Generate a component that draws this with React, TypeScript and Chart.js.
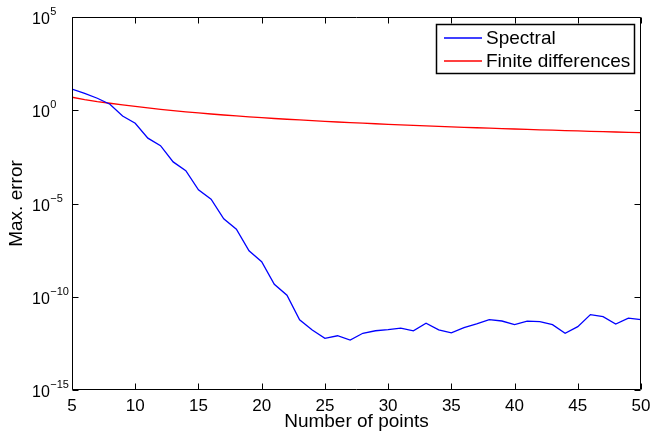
import React, { useEffect, useRef } from "react";
import { Chart, registerables } from "chart.js";

Chart.register(...registerables);

const points = [
  5, 6, 7, 8, 9, 10, 11, 12, 13, 14, 15, 16, 17, 18, 19, 20, 21, 22, 23, 24, 25, 26, 27,
  28, 29, 30, 31, 32, 33, 34, 35, 36, 37, 38, 39, 40, 41, 42, 43, 44, 45, 46, 47, 48, 49, 50,
];

const spectral = [
  13.5, 8.1, 4.4, 2.1, 0.49, 0.2, 3.2e-2, 1.26e-2, 1.7e-3, 5.8e-4, 5.4e-5, 1.7e-5, 1.5e-6,
  4.2e-7, 2.9e-8, 7.6e-9, 4.7e-10, 1.2e-10, 5.8e-12, 1.66e-12, 5.9e-13, 8.1e-13, 4.8e-13,
  1.1e-12, 1.5e-12, 1.74e-12, 2.1e-12, 1.48e-12, 3.8e-12, 1.66e-12, 1.15e-12, 2.2e-12,
  3.5e-12, 5.9e-12, 5.0e-12, 3.2e-12, 4.9e-12, 4.6e-12, 3.2e-12, 1.1e-12, 2.5e-12, 1.1e-11,
  8.5e-12, 3.4e-12, 7.1e-12, 5.9e-12,
];

const finiteDifferences = [
  5.0, 3.74, 2.92, 2.37, 1.96, 1.62, 1.34, 1.12, 0.955, 0.822, 0.715, 0.628, 0.556, 0.495,
  0.443, 0.4, 0.362, 0.33, 0.301, 0.277, 0.255, 0.235, 0.218, 0.203, 0.189, 0.176, 0.165,
  0.155, 0.146, 0.137, 0.129, 0.122, 0.115, 0.109, 0.104, 0.0986, 0.0938, 0.0893, 0.0852,
  0.0813, 0.0778, 0.0744, 0.0712, 0.0682, 0.0655, 0.0629,
];

const xTickValues = [5, 10, 15, 20, 25, 30, 35, 40, 45, 50];
const yTickExponents = [-15, -10, -5, 0, 5];
const seriesLabels = ["Spectral", "Finite differences"];
const seriesColors = ["#0000ff", "#ff0000"];
const xTitle = "Number of points";
const yTitle = "Max. error";

const FONT = "'Liberation Sans', Arial, Helvetica, sans-serif";

const framePlugin = {
  id: "matlabFrame",
  afterDraw(chart: any) {
    const { ctx, chartArea, scales } = chart;
    const { left, right, top, bottom } = chartArea;
    const x = scales.x;
    const y = scales.y;
    ctx.save();
    ctx.strokeStyle = "#000";
    ctx.lineWidth = 1;
    const L = Math.round(left) + 0.5;
    const R = Math.round(right) - 0.5;
    const T = Math.round(top) + 0.5;
    const B = Math.round(bottom) - 0.5;
    ctx.beginPath();
    ctx.rect(L, T, R - L, B - T);
    ctx.stroke();
    const tl = 6;
    ctx.beginPath();
    for (const v of xTickValues) {
      const px = Math.round(x.getPixelForValue(v)) + 0.5;
      ctx.moveTo(px, B);
      ctx.lineTo(px, B - tl);
      ctx.moveTo(px, T);
      ctx.lineTo(px, T + tl);
    }
    for (const e of yTickExponents) {
      const py = Math.round(y.getPixelForValue(Math.pow(10, e))) + 0.5;
      ctx.moveTo(L, py);
      ctx.lineTo(L + tl, py);
      ctx.moveTo(R, py);
      ctx.lineTo(R - tl, py);
    }
    ctx.stroke();

    // y tick labels with superscript exponents
    ctx.fillStyle = "#000";
    ctx.textBaseline = "alphabetic";
    ctx.textAlign = "left";
    for (const e of yTickExponents) {
      const py = y.getPixelForValue(Math.pow(10, e));
      const baseX = 32;
      ctx.font = `16px ${FONT}`;
      ctx.fillText("10", baseX, py + 7);
      const w = ctx.measureText("10").width;
      ctx.font = `11px ${FONT}`;
      const expText = e < 0 ? "\u2212" + String(-e) : String(e);
      ctx.fillText(expText, baseX + w + 0.5, py - 2);
    }

    // legend
    const bx = 436.5;
    const by = 24.5;
    const bw = 198;
    const bh = 49;
    ctx.fillStyle = "#fff";
    ctx.fillRect(bx, by, bw, bh);
    ctx.strokeStyle = "#000";
    ctx.lineWidth = 1.5;
    ctx.strokeRect(bx, by, bw, bh);
    ctx.font = `19px ${FONT}`;
    ctx.textBaseline = "middle";
    seriesLabels.forEach((label, i) => {
      const ly = 38 + i * 23;
      ctx.strokeStyle = seriesColors[i];
      ctx.lineWidth = 1.5;
      ctx.beginPath();
      ctx.moveTo(444, ly);
      ctx.lineTo(482, ly);
      ctx.stroke();
      ctx.fillStyle = "#000";
      ctx.fillText(label, 486, ly + 1);
    });
    ctx.restore();
  },
};

export default function App() {
  const canvasRef = useRef<HTMLCanvasElement | null>(null);

  useEffect(() => {
    document.body.style.margin = "0";
    const canvas = canvasRef.current;
    if (!canvas) return;
    const chart = new Chart(canvas, {
      type: "line",
      data: {
        datasets: [
          {
            label: seriesLabels[0],
            data: points.map((p, i) => ({ x: p, y: spectral[i] })),
            borderColor: seriesColors[0],
            borderWidth: 1.3,
            pointRadius: 0,
            tension: 0,
            fill: false,
          },
          {
            label: seriesLabels[1],
            data: points.map((p, i) => ({ x: p, y: finiteDifferences[i] })),
            borderColor: seriesColors[1],
            borderWidth: 1.3,
            pointRadius: 0,
            tension: 0,
            fill: false,
          },
        ],
      },
      options: {
        responsive: false,
        animation: false,
        devicePixelRatio: 1,
        layout: { padding: { top: 17, right: 9, left: 0, bottom: 0 } },
        plugins: {
          legend: { display: false },
          tooltip: { enabled: false },
        },
        scales: {
          x: {
            type: "linear",
            min: 5,
            max: 50,
            afterBuildTicks: (scale: any) => {
              scale.ticks = xTickValues.map((v) => ({ value: v }));
            },
            afterFit: (scale: any) => {
              scale.height = 43;
              scale.paddingLeft = 0;
              scale.paddingRight = 0;
            },
            grid: { display: false, drawTicks: false },
            border: { display: false },
            ticks: {
              color: "#000",
              font: { family: FONT, size: 17 },
              padding: 6,
              maxRotation: 0,
              autoSkip: false,
            },
            title: {
              display: true,
              text: xTitle,
              color: "#000",
              font: { family: FONT, size: 19 },
              padding: { top: 0, bottom: 0 },
            },
          },
          y: {
            type: "logarithmic",
            min: 1e-15,
            max: 1e5,
            afterBuildTicks: (scale: any) => {
              scale.ticks = yTickExponents.map((e) => ({ value: Math.pow(10, e) }));
            },
            afterFit: (scale: any) => {
              scale.width = 72;
              scale.paddingTop = 0;
              scale.paddingBottom = 0;
            },
            grid: { display: false, drawTicks: false },
            border: { display: false },
            ticks: { display: false },
            title: {
              display: true,
              text: yTitle,
              color: "#000",
              font: { family: FONT, size: 19 },
              padding: { top: 5, bottom: 0 },
            },
          },
        },
      },
      plugins: [framePlugin],
    });
    return () => chart.destroy();
  }, []);

  return (
    <div style={{ width: 650, height: 433, position: "relative" }}>
      <canvas ref={canvasRef} width={650} height={433} />
    </div>
  );
}
